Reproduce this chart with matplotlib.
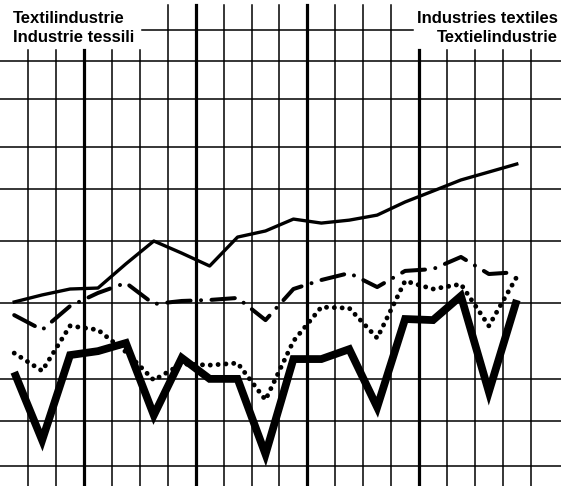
import matplotlib.pyplot as plt
import numpy as np

plt.rcParams['font.family'] = ['Liberation Sans', 'DejaVu Sans']

# quarterly points (one per grid cell), index values on a log scale
quarters = np.arange(19) + 0.5
production = [100.3, 102.4, 104.2, 104.5, 112.2, 120.0, 115.8, 111.5, 121.4, 123.6,
              128.0, 126.5, 127.6, 129.5, 134.6, 139.0, 143.6, 147.0, 150.5]
dashdot = [96.5, 92.4, 99.1, 103.0, 106.1, 99.7, 100.6, 100.9, 101.5, 95.1,
           104.2, 107.0, 109.2, 104.8, 109.9, 110.5, 114.5, 108.9, 109.5]
dotted = [86.3, 81.9, 93.5, 92.4, 86.6, 79.7, 83.6, 83.3, 83.8, 75.2,
          89.4, 98.8, 98.5, 90.2, 106.7, 104.2, 105.7, 93.5, 108.0]
thick = [81.6, 66.8, 85.8, 86.8, 88.9, 71.9, 85.1, 80.0, 80.0, 64.1,
         84.8, 84.8, 87.3, 73.6, 95.4, 95.1, 102.1, 77.0, 100.9]

grid_levels = [62, 70.7, 80, 100, 120, 140, 158, 182, 204]
top_level = 223
year_marks = [3, 7, 11, 15]
cell_edges = np.arange(1, 20)

fig = plt.figure(figsize=(5.61, 4.86), dpi=100)
ax = fig.add_axes([0, 0, 1, 1])
ax.set_yscale('log')
ax.set_ylim(58.38, 243.8)
ax.set_xlim(-0.009, 20.084)
ax.axis('off')

# grid
for x in cell_edges:
    top = 0.99 if 6 <= x <= 14 else 0.897
    lw = 2.3 if x in year_marks else 1.1
    ax.axvline(x, ymin=0, ymax=top, color='black', lw=lw, zorder=1)
for lev in grid_levels:
    ax.axhline(lev, color='black', lw=1.1, zorder=1)
ax.axhline(top_level, xmin=0.253, xmax=0.736, color='black', lw=1.1, zorder=1)

# series
ax.plot(quarters, production, color='black', lw=2.4, zorder=3)
ax.plot(quarters, dashdot, color='black', lw=2.9, zorder=3,
        linestyle=(0, (5.8, 2.6, 0.01, 2.6)), dash_capstyle='round')
ax.plot(quarters, dotted, color='black', lw=3.5, zorder=3,
        linestyle=(0, (0.01, 1.6)), dash_capstyle='round')
ax.plot(quarters, thick, color='black', lw=5.6, zorder=4,
        solid_joinstyle='miter', solid_capstyle='butt')

# titles
fig.text(0.0232, 0.9527, 'Textilindustrie', fontsize=12, fontweight='bold', va='baseline')
fig.text(0.0232, 0.9136, 'Industrie tessili', fontsize=12, fontweight='bold', va='baseline')
fig.text(0.9947, 0.9527, 'Industries textiles', fontsize=12, fontweight='bold',
         va='baseline', ha='right')
fig.text(0.9947, 0.9136, 'Textielindustrie', fontsize=12, fontweight='bold',
         va='baseline', ha='right')

fig.savefig('out.png', dpi=100)
